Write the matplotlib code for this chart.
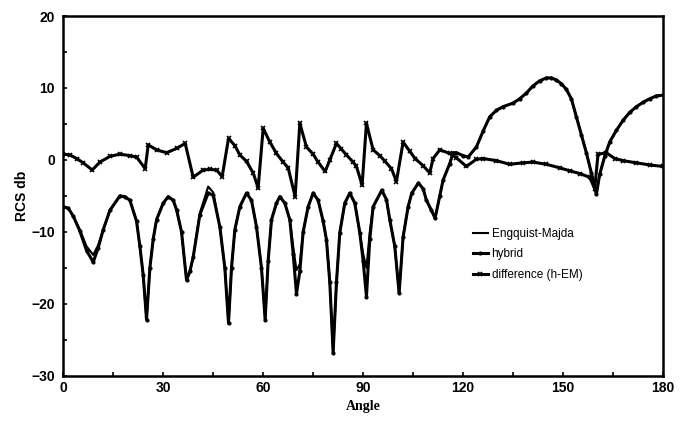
import numpy as np
import matplotlib
matplotlib.use("Agg")
import matplotlib.pyplot as plt
from matplotlib.ticker import MultipleLocator

# --- data --- #
# Engquist-Majda and hybrid share one angle grid
angle = [0, 1.5, 3, 5, 7, 9, 10.5, 12, 14, 17, 18.5, 20, 22, 23, 24, 25, 26, 27, 28,
         30, 31.5, 33, 34, 35.5, 37, 38, 39, 41, 43.5, 45, 47, 48.5, 49.6, 50.5, 51.5,
         53, 55, 56.5, 58, 59.5, 60.6, 61.5, 62.5, 64, 65, 66.5, 68, 69, 70, 71, 72,
         73.5, 75, 76.5, 78, 79, 80, 81, 82, 83, 84.5, 86, 87.5, 89, 90, 91, 92, 93,
         95.6, 97, 98, 99.5, 100.8, 102, 103.5, 104.6, 106.6, 108, 109, 110.5, 111.6,
         113, 114, 116, 117, 118, 120, 121.5, 124, 126, 128, 130, 132, 135, 137, 139,
         141, 143, 145, 146.5, 148, 149.5, 151, 152.5, 154, 155.5, 157, 158.5, 160,
         161, 162.5, 164, 166, 168, 170, 172, 174, 176, 178, 180]

em = [-6.5, -6.7, -7.8, -9.7, -12.0, -13.2, -11.8, -9.7, -7.0, -5.0, -5.1, -5.6, -8.5,
      -12.0, -16.0, -22.2, -15.0, -11.0, -8.3, -6.0, -5.1, -5.6, -6.9, -10.0, -16.7,
      -15.5, -13.5, -7.4, -3.7, -4.5, -9.3, -15.0, -22.7, -15.0, -9.7, -6.5, -4.6,
      -5.6, -9.3, -15.0, -22.2, -14.0, -8.3, -6.0, -5.1, -6.0, -8.3, -12.0, -15.3,
      -14.5, -10.0, -6.5, -4.6, -5.6, -8.5, -11.1, -17.0, -26.8, -17.0, -10.1, -6.0,
      -4.6, -6.0, -10.1, -13.0, -15.0, -10.0, -6.5, -4.2, -5.5, -8.3, -12.0, -18.5,
      -10.7, -6.5, -4.6, -3.2, -4.0, -5.6, -7.0, -8.1, -5.0, -2.8, -0.5, 1.0, 1.0,
      0.6, 0.4, 1.8, 4.0, 6.0, 6.9, 7.4, 7.9, 8.5, 9.3, 10.3, 11.0, 11.4, 11.4, 11.1,
      10.6, 9.8, 8.5, 6.0, 3.5, 1.0, -1.8, -4.6, -2.0, 0.5, 2.5, 4.1, 5.5, 6.6, 7.4,
      8.0, 8.5, 8.9, 9.0]

hybrid = [-6.5, -6.7, -7.8, -9.9, -12.6, -14.2, -12.2, -9.7, -7.0, -5.0, -5.1, -5.6,
          -8.5, -12.0, -16.0, -22.2, -15.0, -11.0, -8.3, -6.0, -5.1, -5.6, -6.9, -10.0,
          -16.7, -15.5, -13.5, -7.6, -4.6, -4.9, -9.3, -15.0, -22.7, -15.0, -9.7, -6.5,
          -4.6, -5.6, -9.3, -15.0, -22.2, -14.0, -8.3, -6.0, -5.1, -6.0, -8.3, -13.0,
          -18.6, -15.5, -10.0, -6.5, -4.6, -5.6, -8.5, -11.1, -17.0, -26.8, -17.0, -10.1,
          -6.0, -4.6, -6.0, -10.1, -14.0, -19.0, -11.0, -6.5, -4.2, -5.5, -8.3, -12.0,
          -18.5, -10.7, -6.5, -4.6, -3.2, -4.0, -5.6, -7.0, -8.1, -5.0, -2.8, -0.5, 1.0,
          1.0, 0.6, 0.4, 1.8, 4.0, 6.0, 6.9, 7.4, 7.9, 8.5, 9.3, 10.3, 11.0, 11.4, 11.4,
          11.1, 10.6, 9.8, 8.5, 6.0, 3.5, 1.0, -1.8, -4.8, -2.0, 0.5, 2.5, 4.1, 5.5, 6.6,
          7.4, 8.0, 8.5, 8.9, 9.0]

# difference (h-EM) has its own grid
diff_angle = [0, 2, 4, 6, 8.7, 11, 14, 17, 20, 22, 24.6, 25.5, 28, 31, 34, 36.6, 39, 42,
              44, 46, 47.7, 49.6, 51.5, 53, 55, 57, 58.5, 60, 62, 64, 66, 67.5, 69.6, 71,
              73, 75, 76.5, 78.6, 80, 82, 83.5, 85, 87, 88, 89.7, 91, 93, 95, 96.6, 98.5,
              100, 102, 104, 105.6, 108, 110, 111, 113, 116, 118, 121, 124, 126, 130,
              134, 138, 141, 145, 149, 152, 155, 158, 159.5, 160.5, 163, 165.5, 168, 172,
              176, 180]
diff = [0.8, 0.7, 0.2, -0.4, -1.4, -0.3, 0.5, 0.8, 0.6, 0.4, -1.2, 2.1, 1.4, 1.0, 1.6,
        2.3, -2.4, -1.4, -1.3, -1.4, -2.3, 3.0, 2.0, 0.7, -0.2, -1.8, -3.9, 4.4, 2.5, 0.9,
        -0.3, -1.1, -5.1, 5.1, 1.8, 0.8, -0.3, -1.6, 0.0, 2.3, 1.5, 0.7, -0.3, -0.9, -3.5,
        5.1, 1.4, 0.6, -0.2, -1.2, -3.0, 2.5, 1.2, 0.2, -0.8, -1.8, 0.2, 1.4, 0.9, 0.3,
        -0.9, 0.1, 0.2, -0.1, -0.6, -0.4, -0.3, -0.6, -1.1, -1.5, -1.9, -2.4, -4.0, 0.8,
        1.0, 0.2, -0.1, -0.4, -0.7, -0.9]

x_ticks = [0, 30, 60, 90, 120, 150, 180]
y_ticks = [-30, -20, -10, 0, 10, 20]

# --- figure --- #
fig = plt.figure(figsize=(6.8, 4.33), dpi=100)
ax = fig.add_axes([0.093, 0.132, 0.882, 0.831])

ax.plot(angle, em, color='black', linewidth=1.5, label='Engquist-Majda')
ax.plot(angle, hybrid, color='black', linewidth=2.2, marker='o', markersize=2,
        label='hybrid')
ax.plot(diff_angle, diff, color='black', linewidth=2.2, marker='x', markersize=3.5,
        markeredgewidth=1.2, label='difference (h-EM)')

ax.set_xlim(0, 180)
ax.set_ylim(-30, 20)
ax.set_xticks(x_ticks)
ax.set_yticks(y_ticks)
ax.xaxis.set_minor_locator(MultipleLocator(15))
ax.yaxis.set_minor_locator(MultipleLocator(5))
ax.tick_params(which='both', direction='in', length=3, width=1.2)
ax.tick_params(axis='y', pad=6)
for lbl in ax.get_xticklabels() + ax.get_yticklabels():
    lbl.set_fontweight('bold')
    lbl.set_fontsize(10)
    lbl.set_family('Liberation Sans')
for sp in ax.spines.values():
    sp.set_linewidth(1.8)

ax.set_xlabel('Angle', fontsize=10, fontweight='bold', family='Liberation Serif')
ax.set_ylabel('RCS db', fontsize=10, fontweight='bold', family='Liberation Sans',
              labelpad=2)

ax.legend(loc='upper left', bbox_to_anchor=(0.665, 0.44), frameon=False,
          handlelength=1.3, handletextpad=0.3, labelspacing=0.7,
          prop={'family': 'Liberation Sans', 'size': 8.5})

fig.savefig('out.png', dpi=100)
